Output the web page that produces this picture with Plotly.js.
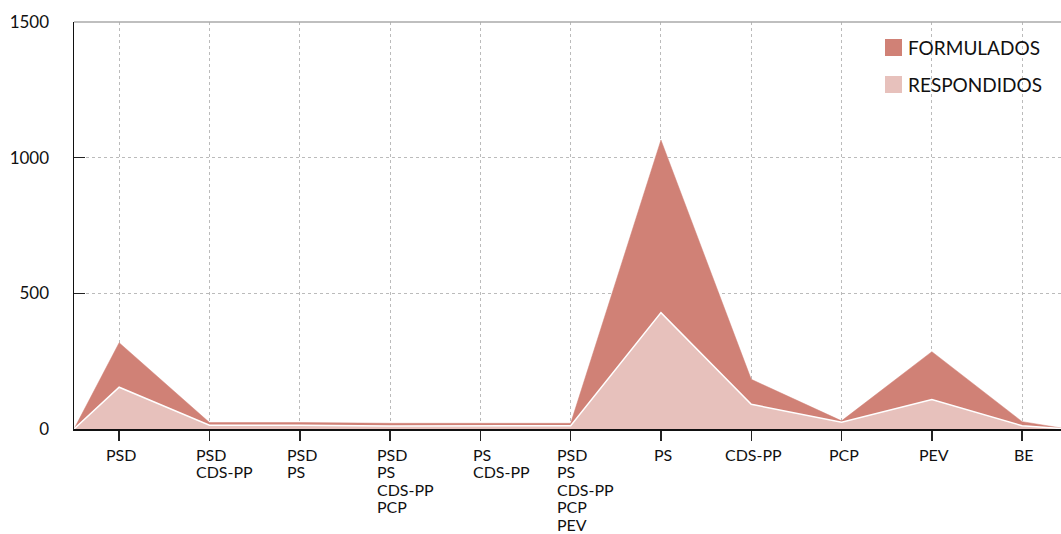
<!DOCTYPE html>
<html>
<head>
<meta charset="utf-8">
<script src="https://cdn.plot.ly/plotly-3.0.1.min.js"></script>
<style>
html,body{margin:0;padding:0;background:#fff;overflow:hidden;}
#chart{width:1061px;height:534px;}
</style>
</head>
<body>
<div id="chart"></div>
<script>
const categories = [
  ["PSD"],
  ["PSD","CDS-PP"],
  ["PSD","PS"],
  ["PSD","PS","CDS-PP","PCP"],
  ["PS","CDS-PP"],
  ["PSD","PS","CDS-PP","PCP","PEV"],
  ["PS"],
  ["CDS-PP"],
  ["PCP"],
  ["PEV"],
  ["BE"]
];
const formulados  = [318, 24, 24, 21, 20, 21, 1065, 183, 30, 285, 27];
const respondidos = [154, 14, 14, 11, 11, 12, 429, 91, 25, 109, 12];
const seriesNames = ["FORMULADOS", "RESPONDIDOS"];
const colors = ["#d08176", "#e7c1bc"];

const idx = categories.map((c, i) => i);
// area is anchored to the baseline half a category before the first and after the last
const xs = [-0.5].concat(idx, [categories.length - 0.5]);
const pad = v => [0].concat(v, [0]);

const traces = [
  {
    x: xs, y: pad(formulados), name: seriesNames[0], type: "scatter", mode: "lines",
    fill: "tozeroy", fillcolor: colors[0], line: {color: colors[0], width: 0.5},
    showlegend: false, hoverinfo: "y"
  },
  {
    x: xs, y: pad(respondidos), name: seriesNames[1], type: "scatter", mode: "lines",
    fill: "tozeroy", fillcolor: colors[1], line: {color: "#ffffff", width: 1.5},
    showlegend: false, hoverinfo: "y"
  }
];

const fontFam = "Lato, 'Open Sans', sans-serif";
const tickSize = 16;
const cv = document.createElement("canvas").getContext("2d");
cv.font = tickSize + "px Lato";

const annotations = [];
// x tick labels: first line centred on the tick, following lines left-aligned with it
categories.forEach((lines, i) => {
  const w = cv.measureText(lines[0]).width;
  lines.forEach((t, j) => {
    annotations.push({xref: "x", yref: "paper", x: i, y: 0,
      xanchor: "left", yanchor: "middle", xshift: -w / 2, yshift: -(25 + j * 17.5),
      text: t, showarrow: false, align: "left",
      font: {family: fontFam, size: tickSize, color: "#111"}});
  });
});

const shapes = [
  {type: "line", xref: "paper", yref: "paper", x0: 0, x1: 1, y0: 1, y1: 1,
   line: {color: "#aaaaaa", width: 1.5}}
];
seriesNames.forEach((n, i) => {
  const yTop = 39 + i * 37;
  shapes.push({type: "rect", xref: "paper", yref: "paper",
    x0: (885 - 74) / 987, x1: (902 - 74) / 987,
    y0: 1 - (yTop + 17 - 22) / 407, y1: 1 - (yTop - 22) / 407,
    fillcolor: colors[i], line: {width: 0}});
  annotations.push({xref: "paper", yref: "paper", x: (906 - 74) / 987,
    y: 1 - (yTop + 8.5 - 22) / 407, xanchor: "left", yanchor: "middle",
    text: n, showarrow: false, font: {family: fontFam, size: 19, color: "#111"}});
});

const layout = {
  width: 1061, height: 534,
  margin: {l: 74, r: 0, t: 22, b: 105},
  paper_bgcolor: "#fff", plot_bgcolor: "#fff",
  font: {family: fontFam, size: 15, color: "#111"},
  showlegend: false,
  xaxis: {
    range: [-0.5, 10.43], tickmode: "array", tickvals: idx, showticklabels: false,
    ticks: "outside", ticklen: 10, tickwidth: 1.5, tickcolor: "#222",
    showline: true, linecolor: "#111", linewidth: 2,
    showgrid: true, gridcolor: "#bbbbbb", griddash: "dot", gridwidth: 1,
    zeroline: false
  },
  yaxis: {
    range: [0, 1500], tickvals: [0, 500, 1000, 1500],
    ticks: "inside", ticklen: 11, tickwidth: 1.5, tickcolor: "#222",
    showline: true, linecolor: "#111", linewidth: 1.5,
    showgrid: true, gridcolor: "#bbbbbb", griddash: "dot", gridwidth: 1,
    zeroline: false, ticklabelstandoff: 20,
    tickfont: {family: fontFam, size: 17, color: "#111"}
  },
  shapes: shapes,
  annotations: annotations
};

Plotly.newPlot("chart", traces, layout, {displayModeBar: false, staticPlot: true});
</script>
</body>
</html>
